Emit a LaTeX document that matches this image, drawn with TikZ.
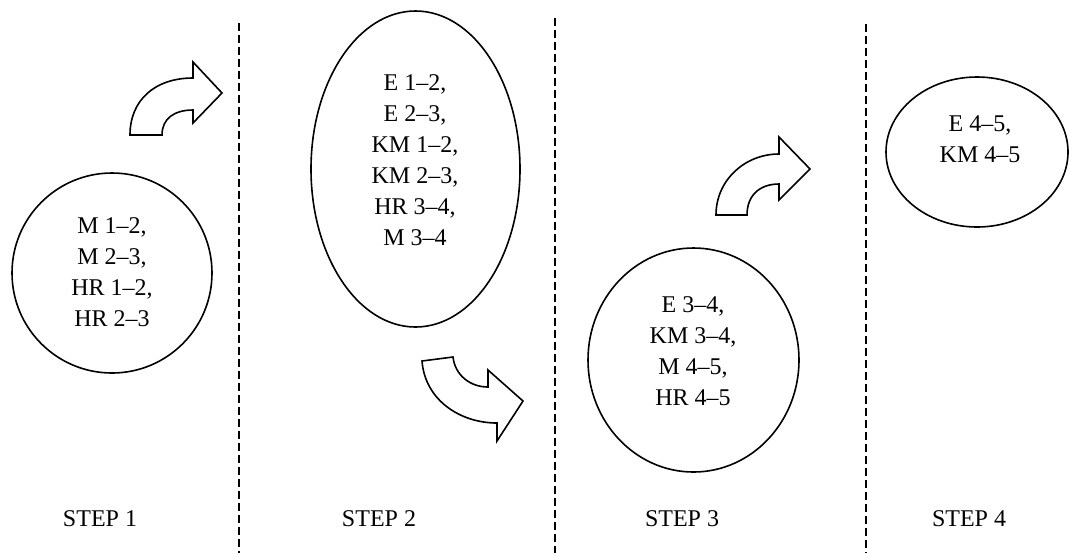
\documentclass[tikz,border=0pt]{standalone}
\usepackage{fontspec}
\setmainfont{Liberation Serif}
\usetikzlibrary{shapes.geometric}
\begin{document}
\begin{tikzpicture}[x=0.5pt,y=-0.5pt,
  blob/.style={draw, line width=0.8pt, ellipse, inner sep=0pt},
  lbl/.style={align=center, font=\fontsize{12}{15.5}\selectfont, inner sep=0pt},
  steplbl/.style={font=\fontsize{12}{14}\selectfont, inner sep=0pt, anchor=base},
  sepline/.style={line width=0.8pt, dash pattern=on 4pt off 2pt},
  bendarrow/.style={draw, line width=0.8pt, fill=white, line join=miter}]
\useasboundingbox (0,0) rectangle (1069,553);
% separators
\coordinate (d1t) at (239,23);  \coordinate (d1b) at (239,553);
\coordinate (d2t) at (555,18);  \coordinate (d2b) at (555,553);
\coordinate (d3t) at (866,24);  \coordinate (d3b) at (866,553);
\draw[sepline] (d1t) -- (d1b);
\draw[sepline] (d2t) -- (d2b);
\draw[sepline] (d3t) -- (d3b);
% shapes
\node[blob, minimum width=100pt, minimum height=100pt] (c1) at (112,273) {};
\node[blob, minimum width=104.5pt, minimum height=158pt] (c2) at (415.5,169) {};
\node[blob, minimum width=105.5pt, minimum height=112pt] (c3) at (693.5,360) {};
\node[blob, minimum width=91pt, minimum height=75pt] (c4) at (977,152) {};
% texts
\node[lbl] (t1) at (112,272) {M 1–2,\\M 2–3,\\HR 1–2,\\HR 2–3};
\node[lbl] (t2) at (415,160) {E 1–2,\\E 2–3,\\KM 1–2,\\KM 2–3,\\HR 3–4,\\M 3–4};
\node[lbl] (t3) at (693,351) {E 3–4,\\KM 3–4,\\M 4–5,\\HR 4–5};
\node[lbl] (t4) at (980,139) {E 4–5,\\KM 4–5};
% step labels
\node[steplbl] (s1) at (100,526) {STEP 1};
\node[steplbl] (s2) at (379,526) {STEP 2};
\node[steplbl] (s3) at (682,526) {STEP 3};
\node[steplbl] (s4) at (969,526) {STEP 4};
% curved block arrows
\draw[bendarrow] (130,135) .. controls (130,100) and (155,78) .. (193,78) -- (193,62) -- (222,93) -- (193,123) -- (193,110) .. controls (175,110) and (162,118) .. (162,135) -- cycle;
\draw[bendarrow] (422,361) .. controls (425,400) and (460,423) .. (497,423) -- (497,441) -- (523,401) -- (488,370) -- (488,387) .. controls (470,387) and (455,375) .. (453,357) -- cycle;
\draw[bendarrow] (716,215) .. controls (716,180) and (745,154) .. (779,154) -- (779,137) -- (810,169) -- (779,200) -- (779,184) .. controls (760,184) and (747,195) .. (747,215) -- cycle;
\end{tikzpicture}
\end{document}
